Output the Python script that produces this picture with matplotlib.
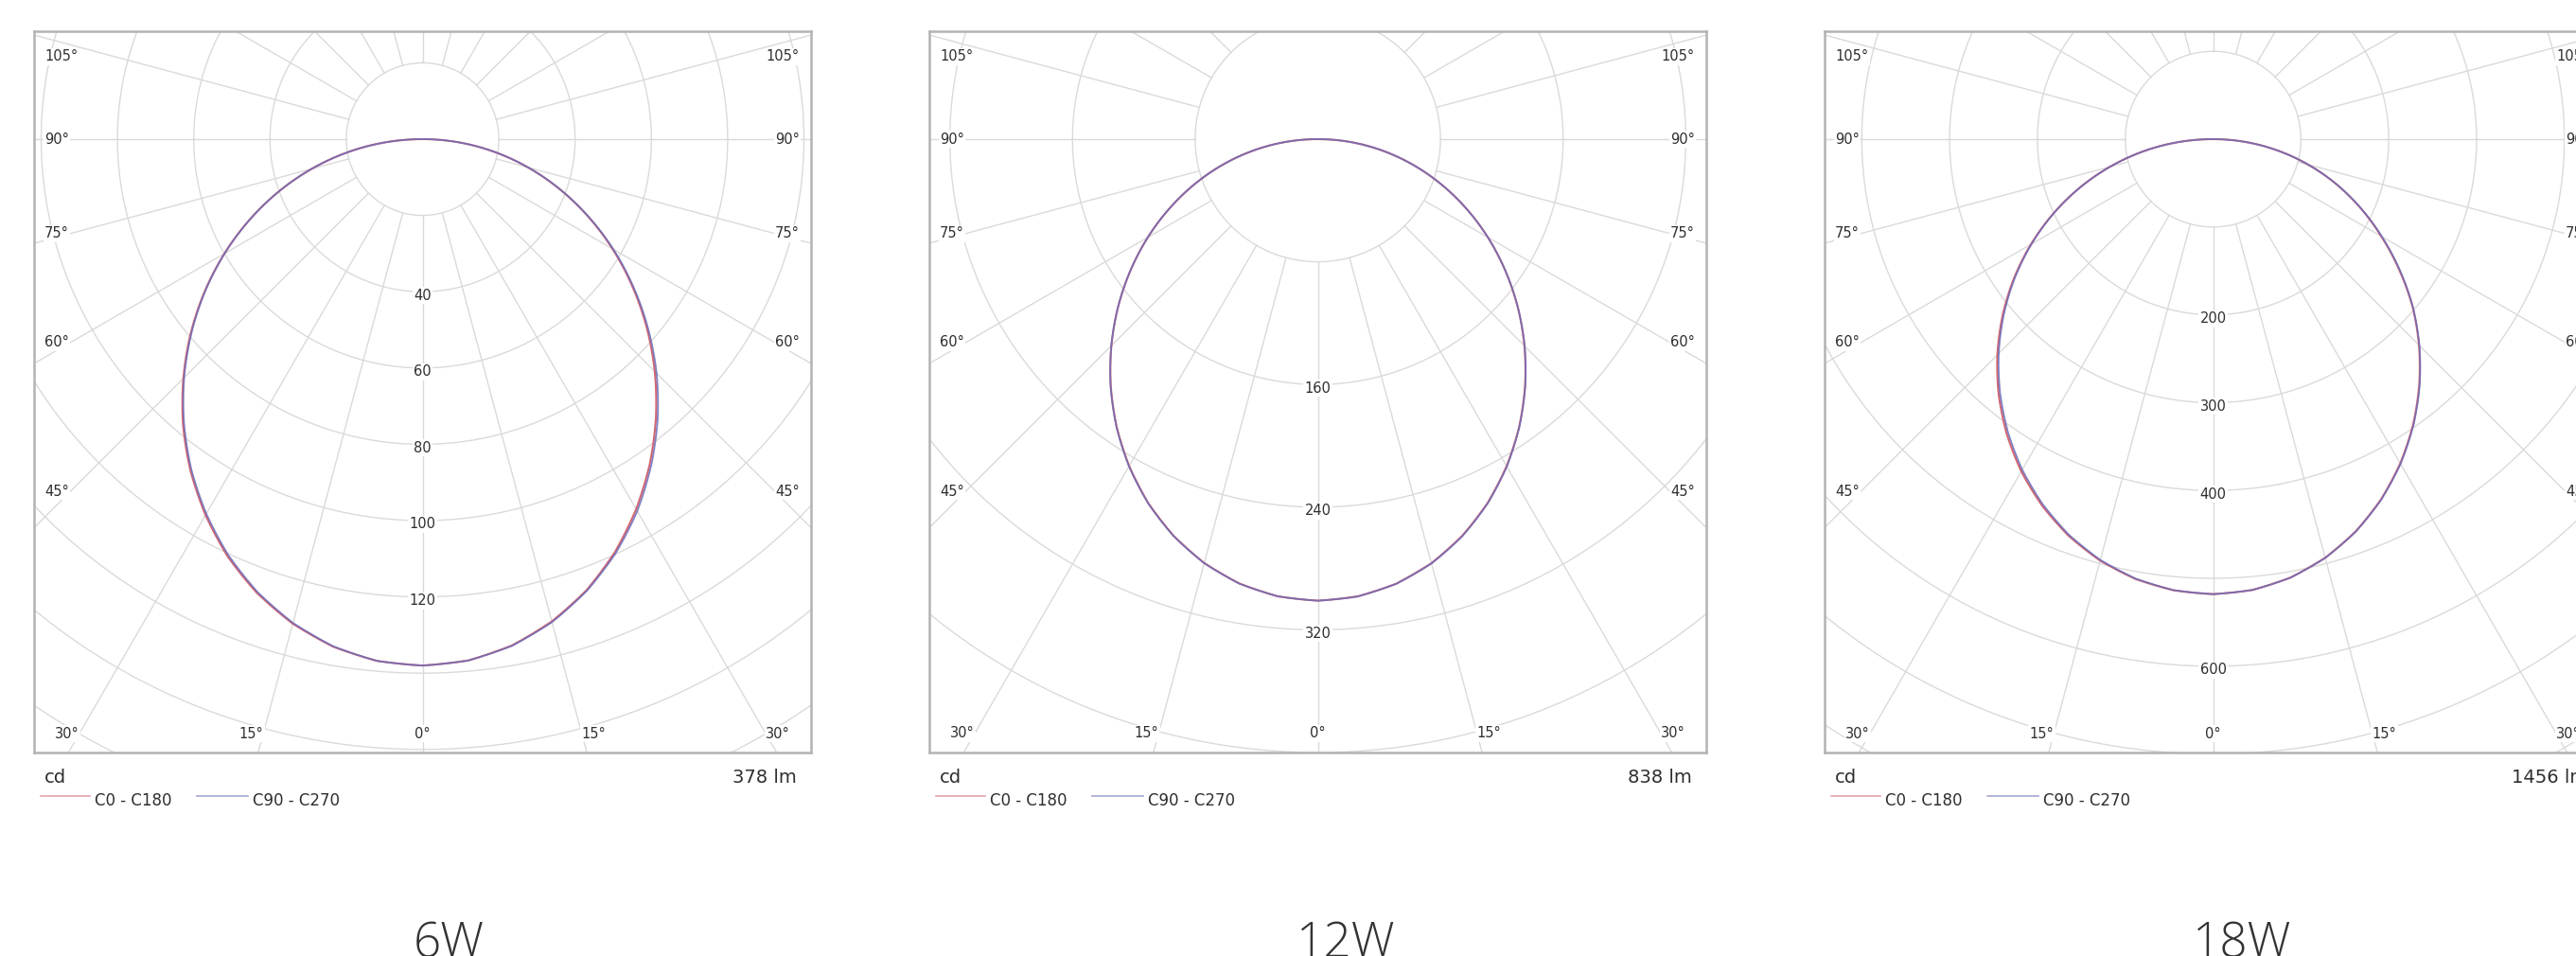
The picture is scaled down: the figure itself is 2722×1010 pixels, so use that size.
import numpy as np
import matplotlib
matplotlib.use("Agg")
import matplotlib.pyplot as plt
from matplotlib.lines import Line2D
from matplotlib.path import Path
from matplotlib.patches import PathPatch

# ---------------- data ----------------
gamma = [0, 5, 10, 15, 20, 25, 30, 35, 40, 45, 50, 55, 60, 65, 70, 75, 80, 85, 90]

# 6W  (cd)
p1_c0   = [138, 137.2, 134.8, 130.9, 125.8, 119.4, 112.0, 103.9, 95.2, 86.1, 76.7, 67.1, 57.5, 47.8, 38.2, 28.6, 19.0, 9.5, 0]
p1_c180 = [138, 137.3, 135.1, 131.5, 126.7, 120.8, 113.8, 106.1, 97.7, 88.7, 79.4, 69.8, 60.0, 50.1, 40.1, 30.1, 20.1, 10.0, 0]
p1_c90  = [138, 137.2, 134.9, 131.1, 126.0, 119.8, 112.6, 104.5, 95.9, 86.8, 77.2, 67.5, 57.8, 48.0, 38.3, 28.7, 19.1, 9.5, 0]
p1_c270 = [138, 137.3, 135.0, 131.3, 126.4, 120.4, 113.4, 105.7, 97.3, 88.4, 79.1, 69.6, 59.9, 50.0, 40.1, 30.1, 20.1, 10.0, 0]

# 12W (cd)
p2_c0   = [301, 299.3, 294.4, 286.3, 275.3, 261.9, 246.3, 229.0, 210.3, 190.6, 170.2, 149.2, 128.1, 106.7, 85.3, 64.0, 42.6, 21.3, 0]
p2_c180 = [301, 299.3, 294.3, 286.2, 275.2, 261.8, 246.1, 228.8, 210.1, 190.4, 170.0, 149.1, 128.0, 106.6, 85.3, 64.0, 42.6, 21.3, 0]
p2_c90  = [301, 299.4, 294.5, 286.5, 275.6, 262.2, 246.6, 229.2, 210.5, 190.8, 170.3, 149.3, 128.1, 106.7, 85.3, 64.0, 42.6, 21.3, 0]
p2_c270 = [301, 299.3, 294.4, 286.3, 275.4, 262.0, 246.4, 229.0, 210.3, 190.5, 170.1, 149.2, 128.0, 106.7, 85.3, 64.0, 42.6, 21.3, 0]

# 18W (cd)
p3_c0   = [518, 515.2, 506.9, 493.4, 475.1, 452.5, 426.3, 397.0, 365.2, 331.6, 296.5, 258.5, 221.0, 185.0, 149.0, 112.2, 74.8, 37.4, 0]
p3_c180 = [518, 515.6, 508.5, 496.8, 480.7, 460.5, 436.8, 409.7, 379.8, 347.4, 313.0, 277.0, 239.5, 201.0, 161.7, 121.7, 81.4, 40.8, 0]
p3_c90  = [518, 515.2, 507.0, 493.6, 475.5, 453.0, 427.0, 397.8, 366.0, 332.3, 297.0, 259.5, 222.0, 185.5, 149.3, 112.2, 74.8, 37.4, 0]
p3_c270 = [518, 515.4, 508.0, 496.0, 479.5, 458.8, 434.6, 407.2, 377.3, 345.2, 311.2, 275.6, 238.6, 200.4, 161.3, 121.5, 81.3, 40.8, 0]

series = [
    (p1_c0, p1_c180, p1_c90, p1_c270),
    (p2_c0, p2_c180, p2_c90, p2_c270),
    (p3_c0, p3_c180, p3_c90, p3_c270),
]
titles = ["6W", "12W", "18W"]
lumens = ["378 lm", "838 lm", "1456 lm"]
ring_steps = [20, 80, 100]
ring_labels = [[40, 60, 80, 100, 120], [160, 240, 320], [200, 300, 400, 600]]
px_per_cd = [4.03, 1.62, 0.928]
side_angles = [105, 90, 75, 60, 45]
bottom_angles = [30, 15, 0]
legend_names = ["C0 - C180", "C90 - C270"]

# ---------------- style / layout ----------------
W, H = 2722, 1010
BOX_L0, PANEL_DX, BOX_W = 36, 946, 821
BOX_TOP, BOX_BOT, CY = 33, 795, 147
GRID = "#dadada"
TXT = "#2e2e2e"
RED = "#d26874"
BLUE = "#6c6cb8"

plt.rcParams["font.family"] = ["DejaVu Sans"]

fig = plt.figure(figsize=(W / 100, H / 100), dpi=100)
fig.patch.set_facecolor("white")


def fx(px):
    return px / W


def fy(py):
    return 1 - py / H


g = np.radians(np.array(gamma, dtype=float))
tt = np.linspace(0, 2 * np.pi, 1441)
lbl_box = dict(facecolor="white", edgecolor="none", pad=1.0)

for i in range(3):
    left = BOX_L0 + PANEL_DX * i
    s = px_per_cd[i]
    half = BOX_W / 2
    cx = left + half
    ax = fig.add_axes([fx(left), fy(BOX_BOT), BOX_W / W, (BOX_BOT - BOX_TOP) / H])
    ax.set_xlim(-half / s, half / s)
    ax.set_ylim(-(BOX_BOT - CY) / s, (CY - BOX_TOP) / s)
    ax.set_xticks([])
    ax.set_yticks([])
    for sp in ax.spines.values():
        sp.set_color("#b3b3b3")
        sp.set_linewidth(1.8)

    step = ring_steps[i]
    rmax = 900 / s
    r = step
    while r < rmax:
        ax.plot(r * np.sin(tt), r * np.cos(tt), color=GRID, lw=1.0, zorder=1)
        r += step
    for a in range(0, 360, 15):
        th = np.radians(a)
        ax.plot([step * np.sin(th), rmax * np.sin(th)],
                [-step * np.cos(th), -rmax * np.cos(th)],
                color=GRID, lw=1.0, zorder=1)

    # ring value labels
    for v in ring_labels[i]:
        ax.text(0, -v - 4 / s, str(v), ha="center", va="center", fontsize=10.5,
                color=TXT, bbox=lbl_box, zorder=2)

    # side angle labels
    for a in side_angles:
        th = np.radians(a)
        y = -(372 / s) * np.cos(th) / np.sin(th)
        y = min(y, (CY - BOX_TOP - 27) / s)
        ax.text(-(half - 11) / s, y, f"{a}°", ha="left", va="center", fontsize=10.5,
                color=TXT, bbox=lbl_box, zorder=2)
        ax.text((half - 12) / s, y, f"{a}°", ha="right", va="center", fontsize=10.5,
                color=TXT, bbox=lbl_box, zorder=2)
    # bottom angle labels
    yb = -628 / s
    for a in bottom_angles:
        xb = 628 * np.tan(np.radians(a)) / s
        if a == 0:
            ax.text(0, yb, f"{a}°", ha="center", va="center", fontsize=10.5,
                    color=TXT, bbox=lbl_box, zorder=2)
        else:
            ax.text(-xb, yb, f"{a}°", ha="right", va="center", fontsize=10.5,
                    color=TXT, bbox=lbl_box, zorder=2)
            ax.text(xb, yb, f"{a}°", ha="left", va="center", fontsize=10.5,
                    color=TXT, bbox=lbl_box, zorder=2)

    # intensity curves on an overlaid polar axes (same centre and scale)
    c0, c180, c90, c270 = [np.array(v, dtype=float) for v in series[i]]
    r_lim = 1.1 * max(c0.max(), c180.max(), c90.max(), c270.max())
    R_px = r_lim * s
    pax = fig.add_axes([fx(cx - R_px), fy(CY + R_px), 2 * R_px / W, 2 * R_px / H],
                       projection="polar")
    pax.set_theta_zero_location("S")
    pax.set_theta_direction(1)
    pax.set_rlim(0, r_lim)
    pax.set_axis_off()
    th_c0_c180 = np.concatenate([-g[::-1], g[1:]])
    r_red = np.concatenate([c180[::-1], c0[1:]])
    r_blue = np.concatenate([c270[::-1], c90[1:]])
    for rr, col, lw, al, z in [(r_red, RED, 1.5, 1.0, 3), (r_blue, BLUE, 1.3, 0.85, 4)]:
        path = Path(np.column_stack([th_c0_c180, rr]), _interpolation_steps=12)
        pax.add_patch(PathPatch(path, fill=False, edgecolor=col, lw=lw, alpha=al,
                                zorder=z, transform=pax.transData))

    # texts below box
    fig.text(fx(left + 11), fy(827), "cd", ha="left", va="baseline", fontsize=14, color=TXT)
    fig.text(fx(left + BOX_W - 15), fy(827), lumens[i], ha="right", va="baseline",
             fontsize=14, color=TXT)
    fig.add_artist(Line2D([fx(left + 7), fx(left + 59)], [fy(841), fy(841)],
                          color=RED, lw=1.2, alpha=0.6))
    fig.text(fx(left + 64), fy(851), legend_names[0], ha="left", va="baseline",
             fontsize=12, color=TXT)
    fig.add_artist(Line2D([fx(left + 172), fx(left + 226)], [fy(841), fy(841)],
                          color=BLUE, lw=1.2, alpha=0.6))
    fig.text(fx(left + 231), fy(851), legend_names[1], ha="left", va="baseline",
             fontsize=12, color=TXT)

    fig.text(fx(left + 438 + 1 * i), fy(1011), titles[i], ha="center", va="baseline",
             fontsize=37, family=["Open Sans", "DejaVu Sans"], fontweight="light",
             color="#333333")

fig.savefig("out.png", dpi=100, facecolor="white")
